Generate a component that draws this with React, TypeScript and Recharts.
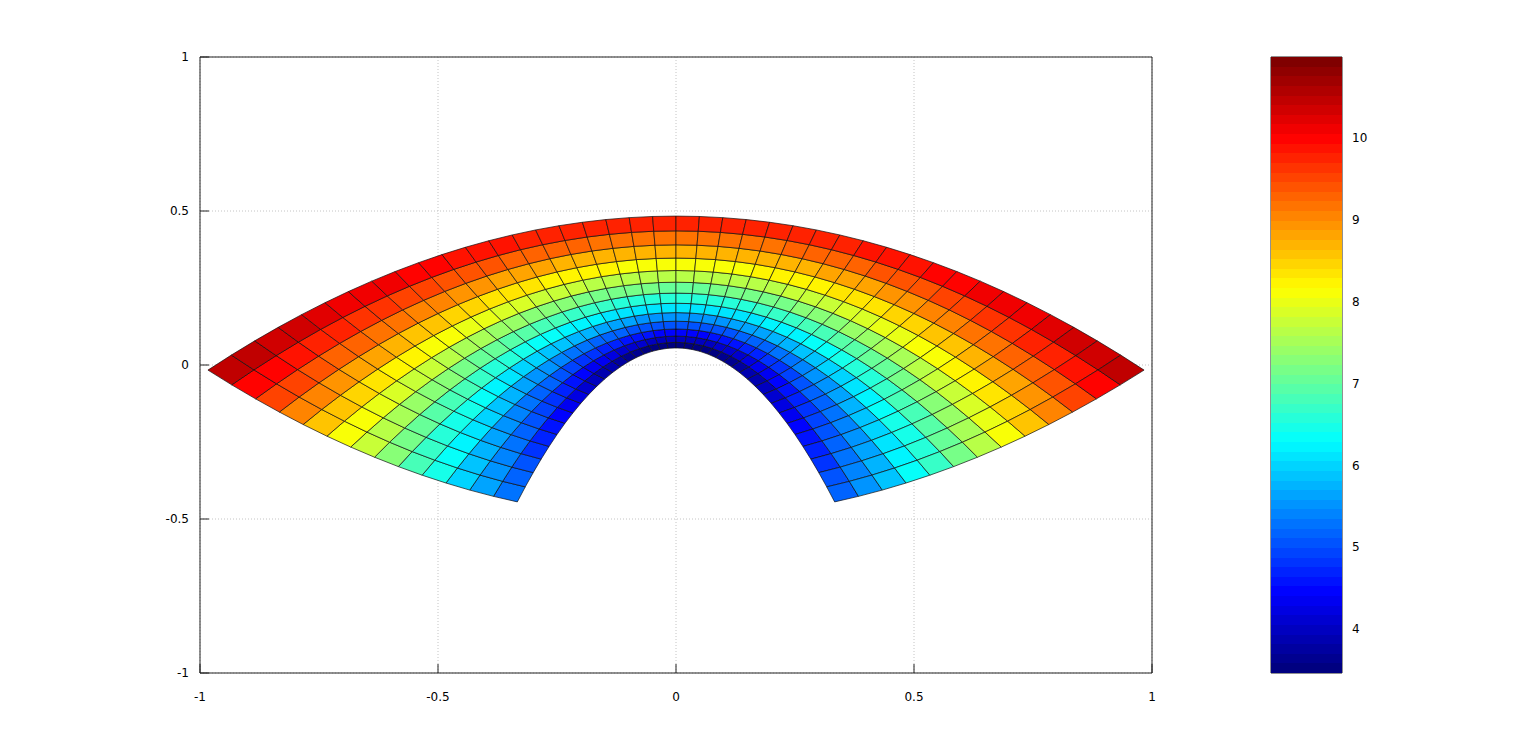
import React from 'react';
import { ScatterChart, Scatter, XAxis, YAxis, CartesianGrid } from 'recharts';

// Mesh parameters (inner -> outer rings, left -> right columns)
const U_LEVELS = [1, 1.15, 1.3, 1.45, 1.6, 1.75, 1.9, 2.05, 2.2, 2.35, 2.5, 2.65, 2.8, 2.95];
const V_LEVELS = [
  -3, -2.85, -2.7, -2.55, -2.4, -2.25, -2.1, -1.95, -1.8, -1.65, -1.5, -1.35, -1.2, -1.05,
  -0.9, -0.75, -0.6, -0.45, -0.3, -0.15, 0, 0.15, 0.3, 0.45, 0.6, 0.75, 0.9, 1.05, 1.2,
  1.35, 1.5, 1.65, 1.8, 1.95, 2.1, 2.25, 2.4, 2.55, 2.7, 2.85, 3,
];

// Colour level (0..63) of each cell, per ring (inner -> outer), indexed by the
// cell's distance in columns from the centre column (0 = centre, 20 = end).
const CELL_LEVELS = [
  [0, 0, 0, 0, 0, 1, 1, 2, 3, 3, 4, 5, 6, 7, 8, 9, 10, 11, 13, 14, 15],
  [4, 4, 4, 4, 5, 5, 5, 6, 7, 7, 8, 9, 10, 11, 12, 13, 14, 15, 16, 17, 18],
  [8, 8, 8, 9, 9, 9, 10, 10, 11, 11, 12, 13, 14, 14, 15, 16, 17, 18, 19, 20, 21],
  [13, 13, 13, 13, 13, 14, 14, 14, 15, 15, 16, 17, 17, 18, 19, 20, 21, 22, 23, 24, 25],
  [17, 17, 17, 17, 18, 18, 18, 19, 19, 20, 20, 21, 21, 22, 23, 24, 25, 25, 26, 27, 28],
  [22, 22, 22, 22, 22, 22, 23, 23, 23, 24, 24, 25, 26, 26, 27, 28, 28, 29, 30, 31, 32],
  [26, 26, 26, 26, 26, 27, 27, 27, 28, 28, 29, 29, 30, 30, 31, 32, 32, 33, 34, 35, 36],
  [30, 30, 31, 31, 31, 31, 31, 32, 32, 32, 33, 33, 34, 34, 35, 36, 36, 37, 38, 39, 39],
  [35, 35, 35, 35, 35, 35, 36, 36, 36, 37, 37, 38, 38, 39, 39, 40, 40, 41, 42, 43, 43],
  [39, 39, 39, 39, 40, 40, 40, 40, 41, 41, 41, 42, 42, 43, 43, 44, 45, 45, 46, 47, 47],
  [44, 44, 44, 44, 44, 44, 44, 45, 45, 45, 46, 46, 47, 47, 48, 48, 49, 49, 50, 51, 51],
  [48, 48, 48, 48, 48, 49, 49, 49, 49, 50, 50, 50, 51, 51, 52, 52, 53, 53, 54, 55, 55],
  [53, 53, 53, 53, 53, 53, 53, 53, 54, 54, 54, 55, 55, 56, 56, 56, 57, 58, 58, 59, 59],
];

const AXIS_TICKS = [-1, -0.5, 0, 0.5, 1];
const COLORBAR_TICKS = [4, 5, 6, 7, 8, 9, 10];
const COLOR_MIN = 3.4641;
const COLOR_MAX = 10.983;
const N_LEVELS = 64;

// jet colormap
function jet(i: number): string {
  const x = i / (N_LEVELS - 1);
  const cl = (v: number) => Math.max(0, Math.min(1, v));
  let r = 0, g = 0, b = 0;
  if (x < 3 / 8) r = 0; else if (x < 5 / 8) r = 4 * x - 1.5; else if (x < 7 / 8) r = 1; else r = -4 * x + 4.5;
  if (x < 1 / 8) g = 0; else if (x < 3 / 8) g = 4 * x - 0.5; else if (x < 5 / 8) g = 1; else if (x < 7 / 8) g = -4 * x + 3.5; else g = 0;
  if (x < 1 / 8) b = 4 * x + 0.5; else if (x < 3 / 8) b = 1; else if (x < 5 / 8) b = -4 * x + 2.5; else b = 0;
  return `rgb(${Math.round(cl(r) * 255)},${Math.round(cl(g) * 255)},${Math.round(cl(b) * 255)})`;
}

// mesh vertices (curvilinear grid)
const meshPoints = U_LEVELS.flatMap((u) => V_LEVELS.map((v) => ({ x: (u * v) / 9, y: (u * u - v * v) / 18 })));
const NV = V_LEVELS.length;
const CENTER = (NV - 1) / 2;

function renderMesh(props: any) {
  const pts = props.points as { x: number; y: number }[];
  const cells: React.ReactNode[] = [];
  for (let k = 0; k < U_LEVELS.length - 1; k++) {
    for (let j = 0; j < NV - 1; j++) {
      const a = pts[k * NV + j];
      const b = pts[k * NV + j + 1];
      const c = pts[(k + 1) * NV + j + 1];
      const d = pts[(k + 1) * NV + j];
      if (!a || !b || !c || !d) continue;
      const level = CELL_LEVELS[k][Math.abs(j - CENTER)];
      cells.push(
        <polygon
          key={`${k}-${j}`}
          points={`${a.x},${a.y} ${b.x},${b.y} ${c.x},${c.y} ${d.x},${d.y}`}
          fill={jet(level)}
          stroke="#111"
          strokeWidth={0.7}
          strokeLinejoin="round"
        />
      );
    }
  }
  return <g>{cells}</g>;
}

// colour bar: band edges on the colour axis, two points (left/right) per edge
const bandEdges = Array.from({ length: N_LEVELS + 1 }, (_, i) => COLOR_MIN + (i * (COLOR_MAX - COLOR_MIN)) / N_LEVELS);
const barPoints = bandEdges.flatMap((v) => [{ x: 0, y: v }, { x: 1, y: v }]);

function renderBar(props: any) {
  const pts = props.points as { x: number; y: number }[];
  const rects: React.ReactNode[] = [];
  for (let i = 0; i < N_LEVELS; i++) {
    const a = pts[2 * i];
    const b = pts[2 * i + 1];
    const c = pts[2 * i + 3];
    const d = pts[2 * i + 2];
    if (!a || !b || !c || !d) continue;
    rects.push(
      <polygon
        key={i}
        points={`${a.x},${a.y} ${b.x},${b.y} ${c.x},${c.y} ${d.x},${d.y}`}
        fill={jet(i)}
        stroke="none"
        shapeRendering="crispEdges"
      />
    );
  }
  return <g>{rects}</g>;
}

const tickFont = { fontSize: 12, fill: '#000', fontFamily: 'DejaVu Sans' };
const lineStyle = { stroke: '#222', strokeWidth: 1 };

export default function App() {
  return (
    <div style={{ position: 'absolute', left: 0, top: 0, width: 1536, height: 756, background: '#fff' }}>
      <div style={{ position: 'absolute', left: 0, top: 0 }}>
        <ScatterChart width={1200} height={756} margin={{ top: 47, right: 38, bottom: 43, left: 0 }}>
          <CartesianGrid stroke="#c4c4c4" strokeDasharray="1 2" />
          <XAxis
            type="number"
            dataKey="x"
            domain={[-1, 1]}
            ticks={AXIS_TICKS}
            allowDataOverflow
            height={40}
            tickSize={-9}
            tickMargin={28}
            tick={tickFont}
            axisLine={lineStyle}
            tickLine={lineStyle}
          />
          <XAxis
            xAxisId="top"
            orientation="top"
            type="number"
            domain={[-1, 1]}
            ticks={AXIS_TICKS}
            height={10}
            tickSize={-9}
            tick={false}
            axisLine={lineStyle}
            tickLine={lineStyle}
          />
          <YAxis
            type="number"
            dataKey="y"
            domain={[-1, 1]}
            ticks={AXIS_TICKS}
            allowDataOverflow
            width={200}
            tickSize={-9}
            tickMargin={20}
            tick={tickFont}
            axisLine={lineStyle}
            tickLine={lineStyle}
          />
          <YAxis
            yAxisId="right"
            orientation="right"
            type="number"
            domain={[-1, 1]}
            ticks={AXIS_TICKS}
            width={10}
            tickSize={-9}
            tick={false}
            axisLine={lineStyle}
            tickLine={lineStyle}
          />
          <Scatter data={meshPoints} isAnimationActive={false} shape={() => <g />} line={renderMesh} />
        </ScatterChart>
      </div>
      <div style={{ position: 'absolute', left: 1200, top: 0 }}>
        <ScatterChart width={250} height={756} margin={{ top: 47, right: 48, bottom: 73, left: 61 }}>
          <XAxis xAxisId="b" type="number" dataKey="x" domain={[0, 1]} allowDataOverflow height={10} tick={false} tickLine={false} axisLine={lineStyle} />
          <XAxis xAxisId="t" orientation="top" type="number" domain={[0, 1]} height={10} tick={false} tickLine={false} axisLine={lineStyle} />
          <YAxis
            yAxisId="r"
            orientation="right"
            type="number"
            dataKey="y"
            domain={[COLOR_MIN, COLOR_MAX]}
            allowDataOverflow
            ticks={COLORBAR_TICKS}
            width={60}
            tickSize={-9}
            tickMargin={19}
            tick={tickFont}
            axisLine={lineStyle}
            tickLine={lineStyle}
          />
          <Scatter
            xAxisId="b"
            yAxisId="r"
            data={barPoints}
            isAnimationActive={false}
            shape={() => <g />}
            line={renderBar}
          />
          <YAxis
            yAxisId="l"
            type="number"
            domain={[COLOR_MIN, COLOR_MAX]}
            ticks={COLORBAR_TICKS}
            width={10}
            tickSize={-9}
            tick={false}
            axisLine={lineStyle}
            tickLine={lineStyle}
          />
        </ScatterChart>
      </div>
    </div>
  );
}
